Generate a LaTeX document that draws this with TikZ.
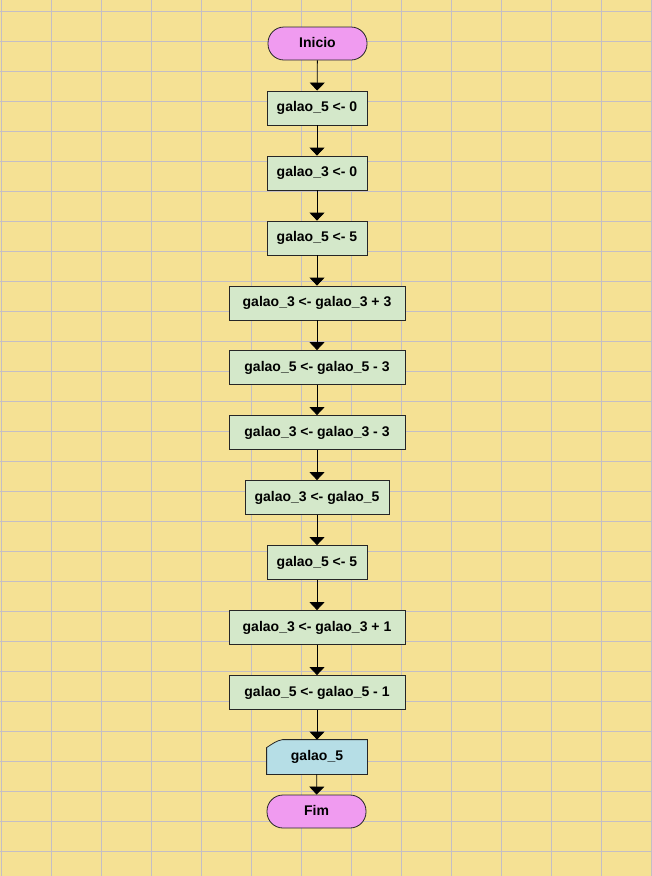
\documentclass[tikz,border=0pt]{standalone}
\usepackage{fontspec}
\setmainfont{Liberation Sans}
\usetikzlibrary{arrows.meta}
\definecolor{paper}{RGB}{245,225,148}
\definecolor{gridc}{RGB}{196,190,196}
\definecolor{procfill}{RGB}{212,232,202}
\definecolor{termfill}{RGB}{240,155,240}
\definecolor{outfill}{RGB}{182,222,230}
\tikzset{
  x=1pt, y=-1pt,
  labelfont/.style={font=\fontsize{14}{16}\selectfont\bfseries},
  base/.style={draw=black!85, line width=0.8pt, labelfont,
    text height=10pt, text depth=2.5pt, inner sep=0pt, minimum height=34pt},
  proc/.style={base, rectangle, fill=procfill},
  term/.style={base, rectangle, rounded corners=16pt, fill=termfill, minimum width=99pt, minimum height=33pt},
  flow/.style={line width=0.8pt, -{Triangle[width=15pt,length=8pt]}},
}
\begin{document}
\begin{tikzpicture}
\useasboundingbox (0,0) rectangle (652,876);
\fill[paper] (0,0) rectangle (652,876);
% ruled background
\foreach \gx in {1,51,...,651} \draw[gridc, line width=0.9pt] (\gx,0) -- (\gx,876);
\foreach \gy in {11,41,...,871} \draw[gridc, line width=0.9pt] (0,\gy) -- (652,\gy);

\node[term] (start) at (317.5,43.5) {Inicio};
\node[proc, minimum width=100pt] (a1) at (317,108) {galao\_5 <- 0};
\node[proc, minimum width=100pt] (a2) at (317,173) {galao\_3 <- 0};
\node[proc, minimum width=100pt] (a3) at (317,238) {galao\_5 <- 5};
\node[proc, minimum width=176pt] (a4) at (317,303) {galao\_3 <- galao\_3 + 3};
\node[proc, minimum width=176pt] (a5) at (317,367.5) {galao\_5 <- galao\_5 - 3};
\node[proc, minimum width=176pt] (a6) at (317,432.5) {galao\_3 <- galao\_3 - 3};
\node[proc, minimum width=144pt] (a7) at (317,497.5) {galao\_3 <- galao\_5};
\node[proc, minimum width=100pt] (a8) at (317,562.5) {galao\_5 <- 5};
\node[proc, minimum width=176pt] (a9) at (317,627.5) {galao\_3 <- galao\_3 + 1};
\node[proc, minimum width=176pt] (a10) at (317,692.5) {galao\_5 <- galao\_5 - 1};
% output block with a clipped top-left corner
\node[base, minimum width=100pt, draw=none] (out) at (317,757) {};
\draw[draw=black!85, line width=0.8pt, fill=outfill]
  (out.south west) -- ([yshift=-8pt]out.north west)
  .. controls ([xshift=6pt,yshift=-4pt]out.north west) and ([xshift=10pt,yshift=-1pt]out.north west)
  .. ([xshift=16pt]out.north west) -- (out.north east) -- (out.south east) -- cycle;
\node[labelfont] at (out) {galao\_5};
\node[term, minimum height=33pt] (stop) at (316.5,811.5) {Fim};

\draw[flow] (start) -- (a1);
\draw[flow] (a1) -- (a2);
\draw[flow] (a2) -- (a3);
\draw[flow] (a3) -- (a4);
\draw[flow] (a4) -- (a5);
\draw[flow] (a5) -- (a6);
\draw[flow] (a6) -- (a7);
\draw[flow] (a7) -- (a8);
\draw[flow] (a8) -- (a9);
\draw[flow] (a9) -- (a10);
\draw[flow] (a10) -- (out);
\draw[flow] (out) -- (stop);
\end{tikzpicture}
\end{document}
